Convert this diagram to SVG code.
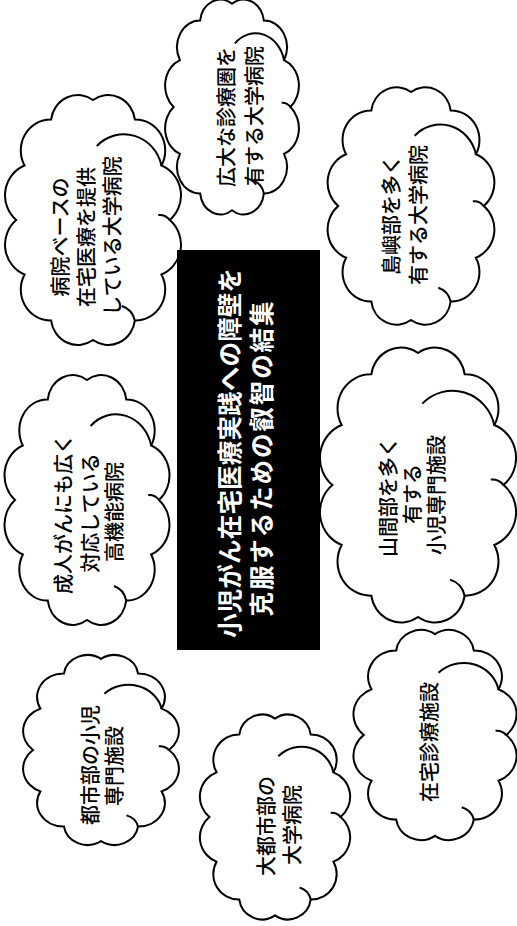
<svg xmlns="http://www.w3.org/2000/svg" xmlns:xlink="http://www.w3.org/1999/xlink" width="517" height="926" viewBox="0 0 517 926">
<style>
.cl{fill:#fff;stroke:#000;stroke-width:2;}
.in{fill:none;stroke:#000;stroke-width:2;}
.t{font-family:"Noto Sans CJK JP","Noto Sans",sans-serif;font-size:20px;font-weight:500;fill:#000;text-anchor:middle;dominant-baseline:central;}
.h{font-family:"Noto Sans CJK JP","Noto Sans",sans-serif;font-size:24.5px;font-weight:bold;fill:#fff;text-anchor:middle;dominant-baseline:central;}
</style>
<defs>
<g id="cloud">
<path class="cl" vector-effect="non-scaling-stroke" d="M0,-120 A28,28 0 0 1 43.6,-100.6 A31,31 0 0 1 71.3,-54.5 A32,32 0 0 1 80,0 A32,32 0 0 1 71.3,54.5 A31,31 0 0 1 43.6,100.6 A28,28 0 0 1 0,120 A28,28 0 0 1 -43.6,100.6 A31,31 0 0 1 -71.3,54.5 A32,32 0 0 1 -80,0 A32,32 0 0 1 -71.3,-54.5 A31,31 0 0 1 -43.6,-100.6 A28,28 0 0 1 0,-120 Z"/>
<path class="in" vector-effect="non-scaling-stroke" d="M4,-74 A40,40 0 0 1 71.3,-54.5"/>
<path class="in" vector-effect="non-scaling-stroke" d="M80,0 A14,14 0 0 0 68,-5"/>
<path class="in" vector-effect="non-scaling-stroke" d="M43.6,100.6 A20,20 0 0 0 30,86"/>
</g>
</defs>
<g id="connectors"></g>
<g id="n1">
<use xlink:href="#cloud" transform="translate(93,220) scale(0.96,1.0)"/>
<text class="t" transform="translate(59,237) rotate(-90)">病院ベースの</text>
<text class="t" transform="translate(85,237) rotate(-90)">在宅医療を提供</text>
<text class="t" transform="translate(111,236) rotate(-90)">している大学病院</text>
</g>
<g id="n2">
<use xlink:href="#cloud" transform="translate(232,107) scale(0.73,0.86)"/>
<text class="t" transform="translate(225,117) rotate(-90)">広大な診療圏を</text>
<text class="t" transform="translate(253,116) rotate(-90)">有する大学病院</text>
</g>
<g id="n3">
<use xlink:href="#cloud" transform="translate(411,206) scale(0.91,0.95)"/>
<text class="t" transform="translate(390,215) rotate(-90)">島嶼部を多く</text>
<text class="t" transform="translate(417,215) rotate(-90)">有する大学病院</text>
</g>
<g id="n4">
<use xlink:href="#cloud" transform="translate(87,500) scale(0.9,1.0)"/>
<text class="t" transform="translate(62,514) rotate(-90)">成人がんにも広く</text>
<text class="t" transform="translate(89,513) rotate(-90)">対応している</text>
<text class="t" transform="translate(113,512) rotate(-90)">高機能病院</text>
</g>
<g id="n5">
<use xlink:href="#cloud" transform="translate(418,485) scale(1.07,1.1)"/>
<text class="t" transform="translate(387,497) rotate(-90)">山間部を多く</text>
<text class="t" transform="translate(411,494) rotate(-90)">有する</text>
<text class="t" transform="translate(435,495) rotate(-90)">小児専門施設</text>
</g>
<g id="n6">
<use xlink:href="#cloud" transform="translate(101,750) scale(0.85,0.76)"/>
<text class="t" transform="translate(89,765) rotate(-90)">都市部の小児</text>
<text class="t" transform="translate(113,766) rotate(-90)">専門施設</text>
</g>
<g id="n7">
<use xlink:href="#cloud" transform="translate(275,817) scale(0.82,0.82)"/>
<text class="t" transform="translate(265,826) rotate(-90)">大都市部の</text>
<text class="t" transform="translate(291,825) rotate(-90)">大学病院</text>
</g>
<g id="n8">
<use xlink:href="#cloud" transform="translate(435,735) scale(0.89,0.84)"/>
<text class="t" transform="translate(428,742) rotate(-90)">在宅診療施設</text>
</g>
<g id="center">
<rect x="177" y="250" width="143" height="400" fill="#000"/>
<text class="h" transform="translate(228.5,453) rotate(-90)" textLength="370" lengthAdjust="spacing">小児がん在宅医療実践への障壁を</text>
<text class="h" transform="translate(260.5,459) rotate(-90)" textLength="315" lengthAdjust="spacing">克服するための叡智の結集</text>
</g>
</svg>
